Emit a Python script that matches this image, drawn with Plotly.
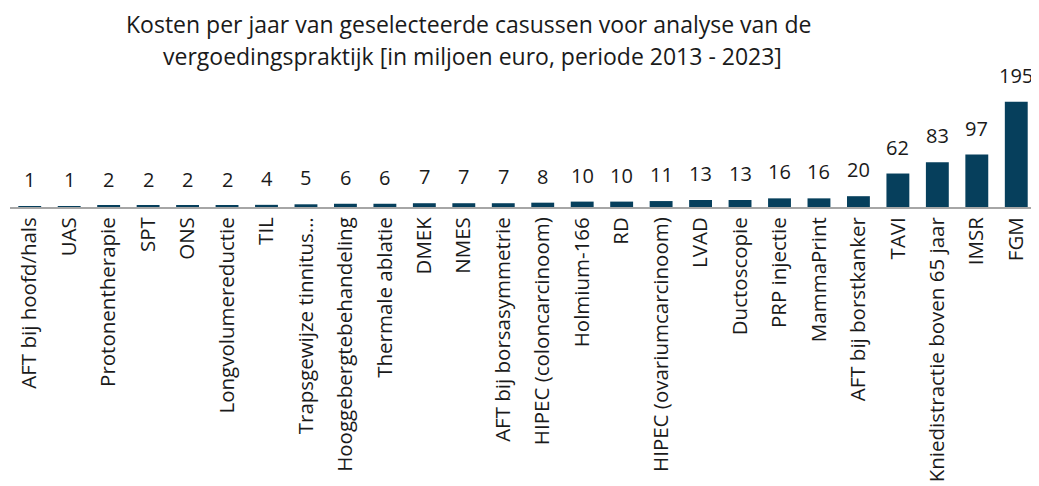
import plotly.graph_objects as go

categories = ["AFT bij hoofd/hals", "UAS", "Protonentherapie", "SPT", "ONS",
              "Longvolumereductie", "TIL", "Trapsgewijze tinnitus…",
              "Hooggebergtebehandeling", "Thermale ablatie", "DMEK", "NMES",
              "AFT bij borsasymmetrie", "HIPEC (coloncarcinoom)", "Holmium-166",
              "RD", "HIPEC (ovariumcarcinoom)", "LVAD", "Ductoscopie",
              "PRP injectie", "MammaPrint", "AFT bij borstkanker", "TAVI",
              "Kniedistractie boven 65 jaar", "IMSR", "FGM"]
values = [1, 1, 2, 2, 2, 2, 4, 5, 6, 6, 7, 7, 7, 8, 10, 10, 11, 13, 13, 16,
          16, 20, 62, 83, 97, 195]

title_lines = ["Kosten per jaar van geselecteerde casussen voor analyse van de",
               "vergoedingspraktijk [in miljoen euro, periode 2013 - 2023]"]

FONT = "Open Sans"
OFF = 8  # page body offset
W, H = 1039 - OFF, 486 - OFF
ML, MR, MT, MB = 10 - OFF, 3, 99 - OFF, 279

fig = go.Figure(go.Bar(
    x=categories, y=values,
    marker=dict(color="#063f5c", line=dict(width=0)),
    cliponaxis=False, width=0.58,
))

plot_w = W - ML - MR
plot_h = H - MT - MB


def px_to_paper(px, py):
    px -= OFF
    py -= OFF
    return (px - ML) / plot_w, (H - MB - py) / plot_h


ann = []
for line, (cx, cy), fs in zip(title_lines, [(468, 24), (472, 56)], [23, 23]):
    xp, yp = px_to_paper(cx, cy)
    ann.append(dict(text=line, x=xp, y=yp, xref="paper", yref="paper",
                    xanchor="center", yanchor="middle", showarrow=False,
                    borderpad=0,
                    font=dict(size=fs, family=FONT, color="#1a1a1a")))

# value labels placed via data coordinates
for c, v in zip(categories, values):
    ann.append(dict(text=str(v), x=c, y=v, xref="x", yref="y",
                    xanchor="center", yanchor="bottom", yshift=12,
                    showarrow=False, borderpad=0,
                    font=dict(size=20, family=FONT, color="#1a1a1a")))

fig.update_layout(
    width=W, height=H,
    margin=dict(l=ML, r=MR, t=MT, b=MB, autoexpand=False),
    plot_bgcolor="white", paper_bgcolor="white",
    showlegend=False,
    font=dict(family=FONT, color="#1a1a1a"),
    annotations=ann,
)

fig.update_xaxes(tickangle=-90, tickfont=dict(size=20.5, family=FONT, color="#1a1a1a"),
                 showline=True, linecolor="#a6a6a6", linewidth=2,
                 ticks="", showgrid=False, automargin=False)
fig.update_yaxes(visible=False, range=[0, 200], showgrid=False, zeroline=False,
                 automargin=False)

fig.write_html("out.html")
